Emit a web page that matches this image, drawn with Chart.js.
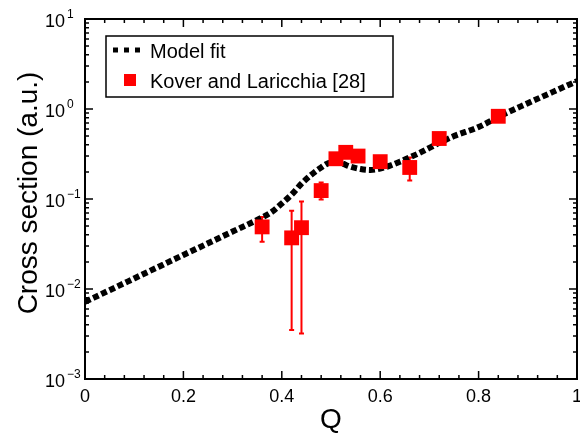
<!DOCTYPE html>
<html>
<head>
<meta charset="utf-8">
<script src="https://cdn.jsdelivr.net/npm/chart.js@4/dist/chart.umd.min.js"></script>
<style>
  html, body { margin: 0; padding: 0; background: #fff; }
  #wrap { width: 580px; height: 433px; }
</style>
</head>
<body>
<div id="wrap"><canvas id="chart" width="580" height="433"></canvas></div>
<script>
// Model fit curve
const modelQ = [0, 0.05, 0.1, 0.15, 0.2, 0.25, 0.3, 0.35, 0.38, 0.4, 0.42, 0.44, 0.46, 0.48, 0.5, 0.52, 0.54, 0.56, 0.58, 0.6, 0.62, 0.64, 0.66, 0.68, 0.7, 0.72, 0.75, 0.8, 0.85, 0.9, 0.95, 1.0];
const modelY = [0.0072, 0.0097, 0.0131, 0.0177, 0.0239, 0.0322, 0.0435, 0.0586, 0.072, 0.089, 0.112, 0.148, 0.186, 0.224, 0.255, 0.25, 0.228, 0.215, 0.21, 0.218, 0.235, 0.26, 0.29, 0.325, 0.37, 0.42, 0.5, 0.63, 0.87, 1.16, 1.54, 2.04];

// Kover and Laricchia [28]
const dataQ = [0.36, 0.42, 0.44, 0.48, 0.51, 0.53, 0.555, 0.60, 0.66, 0.72, 0.84];
const dataY = [0.049, 0.037, 0.048, 0.124, 0.28, 0.33, 0.30, 0.26, 0.224, 0.47, 0.83];
const errHigh = [0.063, 0.074, 0.094, 0.153, null, null, null, null, 0.29, null, null];
const errLow = [0.0336, 0.0035, 0.0032, 0.0986, null, null, null, null, 0.161, null, null];

const xMajor = [0, 0.2, 0.4, 0.6, 0.8, 1];
const xLabels = ['0', '0.2', '0.4', '0.6', '0.8', '1'];
const yExponents = [-3, -2, -1, 0, 1];

const FONT = '"Liberation Sans", Arial, Helvetica, sans-serif';

const errorBars = {
  id: 'errorBars',
  beforeDatasetsDraw(chart) {
    const { ctx, scales: { x, y } } = chart;
    ctx.save();
    ctx.strokeStyle = '#ff0000';
    ctx.lineWidth = 2;
    dataQ.forEach((q, i) => {
      if (errHigh[i] == null) return;
      const px = x.getPixelForValue(q);
      const top = y.getPixelForValue(errHigh[i]);
      const bot = y.getPixelForValue(errLow[i]);
      ctx.beginPath();
      ctx.moveTo(px, top); ctx.lineTo(px, bot);
      ctx.moveTo(px - 2.5, top); ctx.lineTo(px + 2.5, top);
      ctx.moveTo(px - 2.5, bot); ctx.lineTo(px + 2.5, bot);
      ctx.stroke();
    });
    ctx.restore();
  }
};

const frameAndLabels = {
  id: 'frameAndLabels',
  afterDraw(chart) {
    const { ctx, chartArea: a, scales: { x, y } } = chart;
    ctx.save();
    ctx.strokeStyle = '#000';
    ctx.lineWidth = 2;
    ctx.strokeRect(a.left, a.top, a.right - a.left, a.bottom - a.top);

    // x ticks, inward, top and bottom
    ctx.lineWidth = 1.5;
    ctx.beginPath();
    for (let k = 0; k <= 25; k++) {
      const px = x.getPixelForValue(k * 0.04);
      const len = k % 5 === 0 ? 8 : 4;
      ctx.moveTo(px, a.bottom); ctx.lineTo(px, a.bottom - len);
      ctx.moveTo(px, a.top); ctx.lineTo(px, a.top + len);
    }
    // y ticks, inward, left and right
    yExponents.forEach(e => {
      for (let m = 1; m <= 9; m++) {
        if (e === 1 && m > 1) break;
        const py = y.getPixelForValue(m * Math.pow(10, e));
        const len = m === 1 ? 8 : 4;
        ctx.moveTo(a.left, py); ctx.lineTo(a.left + len, py);
        ctx.moveTo(a.right, py); ctx.lineTo(a.right - len, py);
      }
    });
    ctx.stroke();

    // x tick labels
    ctx.fillStyle = '#000';
    ctx.font = '18px ' + FONT;
    ctx.textAlign = 'center';
    ctx.textBaseline = 'alphabetic';
    xMajor.forEach((v, i) => {
      ctx.fillText(xLabels[i], x.getPixelForValue(v), 402);
    });

    // y tick labels 10^n
    yExponents.forEach(e => {
      const py = y.getPixelForValue(Math.pow(10, e));
      ctx.font = '18px ' + FONT;
      ctx.textAlign = 'right';
      ctx.fillText('10', 65, py + 8);
      ctx.font = '12px ' + FONT;
      ctx.textAlign = 'left';
      ctx.fillText(e < 0 ? '\u2212' + (-e) : String(e), 67, py - 1);
    });

    // axis titles
    ctx.font = '28px ' + FONT;
    ctx.textAlign = 'center';
    ctx.fillText('Q', (a.left + a.right) / 2, 428);
    ctx.save();
    ctx.translate(37, (a.top + a.bottom) / 2 - 6);
    ctx.rotate(-Math.PI / 2);
    ctx.fillText('Cross section (a.u.)', 0, 0);
    ctx.restore();

    // legend
    ctx.fillStyle = '#fff';
    ctx.fillRect(106, 36, 287, 61);
    ctx.lineWidth = 1.5;
    ctx.strokeRect(106, 36, 287, 61);
    ctx.strokeStyle = '#000';
    ctx.lineWidth = 5;
    ctx.setLineDash([5, 6]);
    ctx.beginPath();
    ctx.moveTo(113, 50); ctx.lineTo(143, 50);
    ctx.stroke();
    ctx.setLineDash([]);
    ctx.fillStyle = '#ff0000';
    ctx.fillRect(124, 74, 12, 12);
    ctx.fillStyle = '#000';
    ctx.font = '20px ' + FONT;
    ctx.textAlign = 'left';
    ctx.fillText('Model fit', 150, 58);
    ctx.fillText('Kover and Laricchia [28]', 150, 88);
    ctx.restore();
  }
};

new Chart(document.getElementById('chart'), {
  type: 'scatter',
  data: {
    datasets: [
      {
        label: 'Kover and Laricchia [28]',
        data: dataQ.map((q, i) => ({ x: q, y: dataY[i] })),
        backgroundColor: '#ff0000',
        borderWidth: 0,
        pointStyle: 'rect',
        pointRadius: 10.5,
        order: 0
      },
      {
        type: 'line',
        label: 'Model fit',
        data: modelQ.map((q, i) => ({ x: q, y: modelY[i] })),
        borderColor: '#000',
        borderWidth: 6,
        borderDash: [6, 3],
        pointRadius: 0,
        cubicInterpolationMode: 'monotone',
        fill: false,
        order: 1
      }
    ]
  },
  options: {
    responsive: false,
    animation: false,
    layout: { autoPadding: false, padding: { left: 85, top: 19, right: 3, bottom: 54 } },
    plugins: { legend: { display: false }, tooltip: { enabled: false } },
    scales: {
      x: { type: 'linear', min: 0, max: 1, display: false },
      y: { type: 'logarithmic', min: 0.001, max: 10, display: false }
    }
  },
  plugins: [errorBars, frameAndLabels]
});
</script>
</body>
</html>
